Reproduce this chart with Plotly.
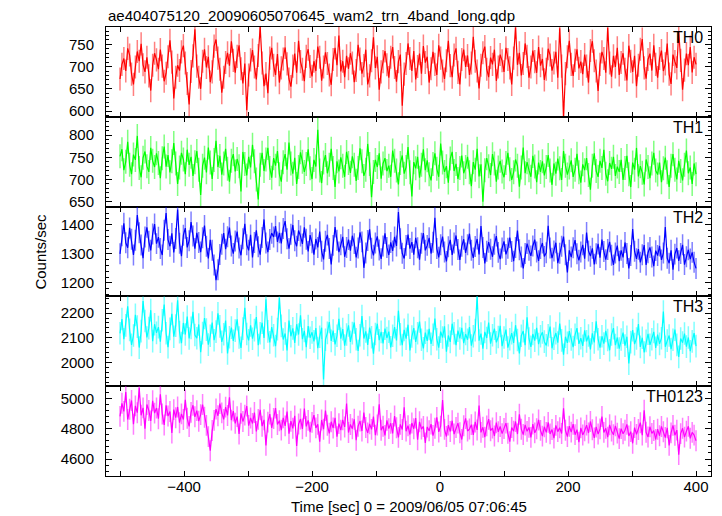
import plotly.graph_objects as go
from plotly.subplots import make_subplots

TITLE = "ae404075120_20090605070645_wam2_trn_4band_long.qdp"
X_TITLE = "Time [sec] 0 = 2009/06/05 07:06:45"
Y_TITLE = "Counts/sec"
BANDS = ["TH0", "TH1", "TH2", "TH3", "TH0123"]
COLORS = ["#ff0000", "#00ff00", "#0000ff", "#00ffff", "#ff00ff"]
ERR_COLORS = ["rgba(255,0,0,0.5)", "rgba(0,255,0,0.5)", "rgba(0,0,255,0.5)",
              "rgba(0,255,255,0.5)", "rgba(255,0,255,0.5)"]
T_START = -500
T_STEP = 3

TH0 = [672, 705, 718, 690, 741, 726, 683, 660, 699, 734, 712, 751, 704, 688, 721, 679, 646, 703, 730, 715,
       694, 738, 701, 667, 685, 722, 759, 710, 628, 676, 703, 691, 733, 747, 708, 662, 615, 689, 724, 784,
       701, 676, 650, 712, 739, 698, 722, 665, 688, 746, 761, 719, 694, 641, 676, 709, 731, 702, 757, 714,
       686, 723, 748, 695, 662, 707, 602, 681, 715, 737, 699, 671, 725, 790, 708, 656, 684, 640, 719, 742,
       703, 681, 728, 664, 697, 717, 743, 706, 672, 655, 701, 729, 686, 758, 711, 694, 667, 723, 739, 700,
       678, 712, 690, 745, 721, 668, 699, 732, 707, 681, 659, 716, 742, 703, 770, 689, 712, 676, 724, 695,
       730, 708, 665, 691, 749, 717, 684, 702, 738, 660, 679, 713, 766, 697, 722, 648, 688, 711, 735, 704,
       675, 721, 744, 698, 666, 711, 727, 612, 683, 707, 752, 718, 690, 735, 671, 700, 729, 684, 746, 709,
       722, 664, 695, 733, 705, 681, 748, 719, 690, 672, 713, 758, 702, 676, 726, 741, 687, 660, 716, 738,
       699, 725, 681, 708, 767, 712, 690, 651, 703, 731, 745, 694, 676, 720, 705, 738, 668, 699, 727, 713,
       688, 742, 716, 697, 660, 719, 788, 704, 731, 680, 707, 752, 723, 675, 699, 736, 711, 686, 744, 702,
       717, 670, 694, 740, 726, 691, 708, 733, 675, 786, 701, 589, 684, 722, 758, 705, 679, 714, 739, 696,
       711, 683, 727, 701, 664, 736, 757, 713, 690, 645, 705, 733, 718, 686, 787, 708, 677, 724, 699, 742,
       681, 709, 730, 694, 669, 747, 712, 688, 724, 656, 703, 739, 762, 697, 673, 716, 729, 691, 748, 705,
       675, 718, 736, 690, 706, 752, 683, 661, 727, 711, 697, 780, 714, 648, 692, 729, 703, 744, 687, 721,
       705]

TH1 = [752, 768, 721, 740, 785, 733, 712, 756, 744, 798, 726, 705, 749, 763, 730, 717, 771, 742, 728, 759,
       737, 703, 748, 774, 729, 755, 716, 741, 782, 736, 690, 727, 760, 745, 712, 767, 733, 751, 708, 739,
       764, 722, 665, 731, 749, 716, 772, 738, 701, 744, 787, 728, 753, 711, 736, 769, 724, 695, 742, 757,
       718, 746, 730, 673, 762, 735, 709, 751, 727, 778, 741, 700, 655, 733, 760, 719, 745, 771, 726, 704,
       748, 731, 764, 712, 695, 739, 757, 722, 783, 736, 713, 749, 690, 728, 761, 740, 717, 735, 768, 725,
       701, 744, 729, 812, 720, 692, 738, 755, 714, 733, 769, 726, 683, 741, 718, 750, 731, 706, 762, 737,
       715, 752, 733, 697, 726, 770, 741, 708, 722, 780, 735, 660, 717, 744, 728, 759, 702, 736, 748, 719,
       731, 706, 765, 742, 720, 689, 737, 754, 713, 728, 773, 716, 662, 739, 725, 751, 704, 733, 768, 721,
       743, 712, 698, 735, 759, 724, 706, 781, 738, 717, 730, 693, 747, 762, 719, 735, 701, 726, 754, 714,
       728, 751, 716, 685, 739, 722, 769, 707, 734, 650, 721, 748, 730, 710, 757, 736, 695, 727, 742, 718,
       705, 737, 760, 723, 699, 716, 745, 731, 684, 727, 772, 714, 739, 721, 706, 753, 729, 694, 738, 717,
       741, 709, 728, 755, 720, 688, 736, 713, 747, 725, 699, 764, 731, 711, 727, 743, 706, 722, 758, 716,
       693, 734, 721, 748, 710, 677, 731, 759, 719, 706, 742, 726, 767, 713, 696, 737, 724, 751, 708, 729,
       717, 744, 699, 726, 753, 712, 683, 738, 722, 771, 707, 730, 715, 689, 745, 728, 703, 736, 760, 720,
       711, 738, 694, 725, 749, 716, 683, 731, 757, 722, 700, 742, 719, 698, 733, 765, 714, 727, 690, 736,
       712]

TH2 = [1300, 1362, 1405, 1338, 1321, 1389, 1350, 1296, 1347, 1433, 1372, 1330, 1285, 1358, 1391, 1343, 1312, 1368, 1402, 1335,
       1357, 1318, 1296, 1381, 1440, 1349, 1326, 1370, 1305, 1353, 1452, 1336, 1292, 1364, 1388, 1322, 1345, 1409, 1361, 1318,
       1372, 1339, 1306, 1355, 1397, 1326, 1284, 1348, 1312, 1262, 1210, 1245, 1298, 1333, 1371, 1316, 1359, 1390, 1327, 1301,
       1344, 1376, 1320, 1295, 1352, 1403, 1331, 1312, 1365, 1288, 1339, 1381, 1324, 1297, 1356, 1418, 1337, 1306, 1349, 1371,
       1358, 1395, 1341, 1372, 1336, 1387, 1412, 1352, 1318, 1367, 1399, 1345, 1326, 1380, 1361, 1334, 1391, 1350, 1308, 1364,
       1338, 1297, 1351, 1322, 1376, 1309, 1281, 1343, 1365, 1318, 1264, 1329, 1392, 1347, 1306, 1331, 1358, 1290, 1322, 1349,
       1311, 1362, 1335, 1288, 1320, 1374, 1341, 1252, 1303, 1346, 1384, 1319, 1295, 1337, 1360, 1313, 1283, 1327, 1370, 1322,
       1296, 1339, 1310, 1358, 1327, 1443, 1352, 1302, 1284, 1329, 1366, 1318, 1340, 1297, 1355, 1321, 1280, 1336, 1371, 1312,
       1329, 1355, 1301, 1340, 1424, 1318, 1288, 1331, 1359, 1306, 1274, 1324, 1348, 1296, 1337, 1363, 1315, 1279, 1326, 1350,
       1303, 1331, 1369, 1312, 1286, 1325, 1351, 1298, 1395, 1322, 1267, 1309, 1340, 1316, 1290, 1333, 1361, 1305, 1282, 1320,
       1343, 1298, 1319, 1356, 1308, 1275, 1322, 1380, 1314, 1289, 1250, 1301, 1335, 1312, 1293, 1327, 1349, 1306, 1276, 1318,
       1337, 1291, 1304, 1396, 1320, 1285, 1310, 1338, 1268, 1302, 1326, 1359, 1297, 1236, 1312, 1289, 1321, 1347, 1300, 1278,
       1306, 1331, 1283, 1373, 1310, 1292, 1319, 1264, 1300, 1334, 1287, 1349, 1308, 1280, 1315, 1341, 1295, 1262, 1303, 1328,
       1275, 1312, 1288, 1339, 1301, 1250, 1294, 1385, 1309, 1283, 1316, 1271, 1297, 1330, 1262, 1304, 1322, 1289, 1258, 1311,
       1294, 1327, 1279, 1303, 1392, 1285, 1268, 1312, 1246, 1299, 1320, 1276, 1301, 1331, 1263, 1290, 1314, 1282, 1305, 1271,
       1250]

TH3 = [2118, 2176, 2094, 2150, 2228, 2132, 2071, 2109, 2193, 2145, 2060, 2127, 2249, 2168, 2101, 2139, 2212, 2086, 2155, 2120,
       2143, 2084, 2171, 2235, 2118, 2062, 2136, 2197, 2104, 2149, 2252, 2123, 2078, 2160, 2113, 2186, 2097, 2140, 2205, 2111,
       2098, 2154, 2041, 2119, 2180, 2133, 2072, 2108, 2162, 2090, 2125, 2199, 2146, 2083, 2114, 2170, 2036, 2102, 2141, 2087,
       2129, 2175, 2101, 2059, 2137, 2222, 2115, 2089, 2150, 2096, 2131, 2184, 2070, 2118, 2161, 2099, 2256, 2126, 2081, 2143,
       2110, 2066, 2135, 2262, 2148, 2093, 2117, 2048, 2170, 2106, 2138, 2079, 2155, 2113, 2191, 2094, 2128, 2062, 2147, 2100,
       2122, 2085, 2139, 2058, 2104, 2141, 1930, 2092, 2120, 2164, 2087, 2129, 2073, 2108, 2177, 2096, 2135, 2068, 2113, 2150,
       2083, 2119, 2162, 2094, 2046, 2110, 2188, 2097, 2126, 2071, 2141, 2102, 2035, 2115, 2157, 2090, 2124, 2077, 2137, 2099,
       2125, 2061, 2108, 2143, 2089, 2210, 2114, 2070, 2132, 2096, 2153, 2048, 2105, 2139, 2083, 2118, 2166, 2092, 2057, 2121,
       2087, 2136, 2075, 2112, 2178, 2094, 2060, 2125, 2101, 2146, 2043, 2109, 2083, 2157, 2118, 2070, 2129, 2097, 2140, 2078,
       2115, 2092, 2143, 2068, 2106, 2131, 2270, 2088, 2117, 2055, 2124, 2099, 2162, 2076, 2110, 2137, 2081, 2103, 2148, 2066,
       2101, 2133, 2060, 2094, 2119, 2079, 2151, 2091, 2036, 2108, 2127, 2070, 2183, 2097, 2063, 2115, 2088, 2140, 2074, 2106,
       2122, 2084, 2069, 2110, 2145, 2057, 2096, 2119, 2080, 2158, 2089, 2031, 2104, 2079, 2127, 2093, 2062, 2112, 2139, 2075,
       2098, 2067, 2130, 2085, 2109, 2052, 2118, 2081, 2167, 2094, 2060, 2106, 2076, 2128, 2091, 2049, 2113, 2139, 2070, 2101,
       2056, 2093, 2121, 2068, 2104, 1995, 2082, 2131, 2074, 2097, 2156, 2063, 2100, 2040, 2087, 2116, 2071, 2094, 2124, 2059,
       2113, 2075, 2098, 2206, 2063, 2088, 2109, 2054, 2092, 2133, 2071, 2022, 2097, 2080, 2117, 2064, 2101, 2045, 2085, 2119,
       2066]

TH0123 = [4882, 4968, 4915, 5042, 4861, 4929, 4987, 4830, 4951, 4906, 5070, 4889, 4938, 4800, 4960, 4921, 4852, 4985, 4903, 4937,
          4866, 5028, 4897, 4825, 4955, 4884, 4914, 4772, 4926, 4873, 4944, 4840, 4898, 4861, 4991, 4869, 4815, 4908, 4955, 4879,
          4920, 4850, 4893, 4960, 4876, 4822, 4748, 4655, 4788, 4855, 4930, 4886, 4966, 4905, 4862, 4943, 4888, 5008, 4857, 4917,
          4836, 4880, 4765, 4902, 4848, 4890, 4950, 4821, 4871, 4835, 4907, 4782, 4862, 4925, 4817, 4859, 4690, 4844, 4897, 4806,
          4868, 4936, 4828, 4853, 4791, 4872, 4819, 4913, 4768, 4850, 4803, 4885, 4686, 4831, 4864, 4799, 4933, 4816, 4855, 4778,
          4842, 4890, 4806, 4829, 4714, 4858, 4797, 4920, 4823, 4770, 4846, 4805, 4872, 4748, 4834, 4791, 4859, 4812, 4966, 4775,
          4828, 4800, 4863, 4724, 4817, 4851, 4785, 4907, 4808, 4773, 4832, 4796, 4880, 4757, 4825, 4962, 4790, 4817, 4756, 4855,
          4801, 4836, 4769, 4884, 4807, 4743, 4829, 4795, 4941, 4784, 4820, 4762, 4838, 4800, 4870, 4727, 4846, 4798, 4815, 4706,
          4812, 4787, 4831, 4755, 4803, 4875, 4779, 4817, 4990, 4796, 4749, 4824, 4782, 4853, 4765, 4808, 4837, 4774, 4729, 4820,
          4868, 4785, 4798, 4827, 4759, 4845, 4792, 4953, 4776, 4810, 4744, 4819, 4863, 4787, 4805, 4752, 4840, 4780, 4815, 4768,
          4802, 4837, 4770, 4715, 4808, 4784, 4848, 4765, 4896, 4797, 4762, 4825, 4783, 4809, 4743, 4831, 4773, 4800, 4858, 4789,
          4751, 4813, 4776, 4842, 4766, 4795, 4738, 4822, 4781, 4807, 4769, 4935, 4790, 4748, 4817, 4778, 4830, 4761, 4794, 4712,
          4806, 4759, 4787, 4824, 4772, 4848, 4793, 4740, 4812, 4765, 4799, 4881, 4776, 4803, 4745, 4826, 4785, 4760, 4819, 4771,
          4735, 4801, 4767, 4790, 4829, 4752, 4781, 4704, 4808, 4763, 4795, 4840, 4758, 4922, 4777, 4746, 4813, 4769, 4788, 4729,
          4797, 4754, 4815, 4780, 4742, 4806, 4690, 4773, 4822, 4757, 4791, 4629, 4768, 4803, 4745, 4784, 4816, 4737, 4776, 4758,
          4721]

ERRORS = [26, 27, 36, 46, 69]
Y_RANGES = [[587, 789], [639, 841], [1154, 1462], [1903, 2268], [4488, 5081]]
Y_DTICKS = [50, 50, 100, 100, 200]
X_RANGE = [-521.9, 423.4]

SERIES = [TH0, TH1, TH2, TH3, TH0123]
TIMES = [T_START + T_STEP * i for i in range(len(TH0))]

FONT = "Liberation Sans, Arial, sans-serif"

fig = make_subplots(rows=5, cols=1, shared_xaxes=True, vertical_spacing=0)

for k, vals in enumerate(SERIES):
    fig.add_trace(go.Scatter(
        x=TIMES, y=vals, mode="lines",
        line=dict(color=COLORS[k], width=1.2),
        error_y=dict(type="constant", value=ERRORS[k], color=ERR_COLORS[k],
                     thickness=1.5, width=0),
        showlegend=False, hoverinfo="skip"), row=k + 1, col=1)
    fig.update_yaxes(
        range=Y_RANGES[k], dtick=Y_DTICKS[k], tick0=0, automargin=False,
        ticks="inside", ticklen=6, tickwidth=1, tickcolor="black",
        minor=dict(dtick=Y_DTICKS[k] / 5, ticks="inside", ticklen=3,
                   tickcolor="black", tickwidth=1, showgrid=False),
        showline=True, linecolor="black", linewidth=1, mirror="ticks",
        showgrid=False, zeroline=False, ticklabelstandoff=8,
        tickfont=dict(family=FONT, size=15, color="black"),
        row=k + 1, col=1)
    fig.update_xaxes(
        range=X_RANGE, dtick=200, tick0=0, automargin=False,
        ticks="inside", ticklen=5, tickwidth=1, tickcolor="black",
        minor=dict(dtick=100, ticks="inside", ticklen=5, tickcolor="black",
                   tickwidth=1, showgrid=False),
        showline=True, linecolor="black", linewidth=1, mirror="ticks",
        showgrid=False, zeroline=False, ticklabelstandoff=-3,
        tickfont=dict(family=FONT, size=15, color="black"),
        row=k + 1, col=1)
    axis_suffix = "" if k == 0 else str(k + 1)
    fig.add_annotation(
        text=BANDS[k], xref=f"x{axis_suffix} domain", yref=f"y{axis_suffix} domain",
        x=1, y=1, xanchor="right", yanchor="top", xshift=-6, yshift=0,
        showarrow=False, font=dict(family=FONT, size=16, color="black"))

fig.add_annotation(text=TITLE, xref="paper", yref="paper", x=0, y=1.025,
                   xanchor="left", yanchor="middle", showarrow=False,
                   font=dict(family=FONT, size=15, color="black"))
fig.add_annotation(text=Y_TITLE, xref="paper", yref="paper", x=-0.109, y=0.5,
                   xanchor="center", yanchor="middle", textangle=-90, showarrow=False,
                   font=dict(family=FONT, size=15, color="black"))
fig.add_annotation(text=X_TITLE, xref="paper", yref="paper", x=0.5, y=-0.068,
                   xanchor="center", yanchor="middle", showarrow=False,
                   font=dict(family=FONT, size=15, color="black"))

fig.update_layout(
    template="none",
    width=722, height=516, autosize=False,
    margin=dict(l=106, r=11, t=27, b=40, pad=0),
    paper_bgcolor="white", plot_bgcolor="white",
    font=dict(family=FONT, size=15, color="black"),
)

fig.write_html("out.html", config={"displayModeBar": False},
               post_script="document.body.style.margin='0px';")
